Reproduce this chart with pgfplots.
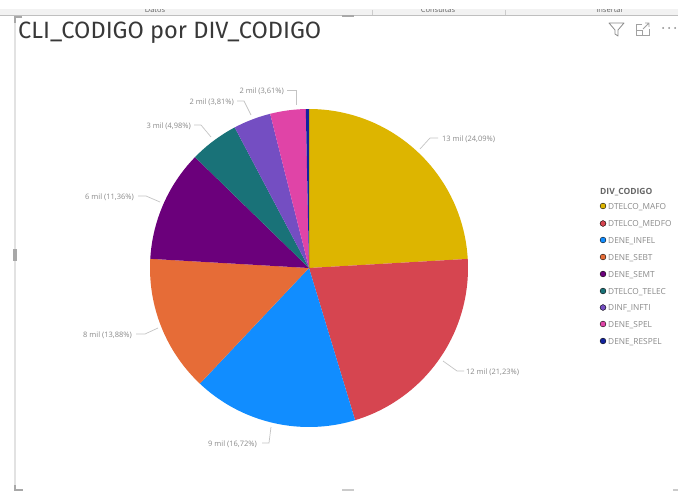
\documentclass[border=0pt]{standalone}
\usepackage{pgfplots}
\usepackage{fontspec}
\pgfplotsset{compat=1.18}
\setmainfont{Open Sans}
\newfontfamily\titlefont{Fira Sans}
\definecolor{cA}{HTML}{DDB500}
\definecolor{cB}{HTML}{D64550}
\definecolor{cC}{HTML}{118DFF}
\definecolor{cD}{HTML}{E66C37}
\definecolor{cE}{HTML}{6B007B}
\definecolor{cF}{HTML}{197278}
\definecolor{cG}{HTML}{744EC2}
\definecolor{cH}{HTML}{E044A7}
\definecolor{cI}{HTML}{12239E}
\definecolor{lbl}{HTML}{8A8A8A}
\definecolor{leader}{HTML}{C4C4C4}
\definecolor{frame}{HTML}{E2E2E2}
\definecolor{handle}{HTML}{A8A8A8}
% One sector: start and end as cumulative percentages, clockwise from the top
\newcommand{\slice}[3]{%
  \addplot[fill=#3, draw=none, domain=0:1, samples=60, samples y=0]
    ({309+159*sin(3.6*(#1+(#2-#1)*x))}, {223+159*cos(3.6*(#1+(#2-#1)*x))})
    -- (axis cs:309,223) -- cycle;
}
% Data label with its two-segment leader, in pixel coordinates from the top
\newcommand{\lab}[8]{%
  \draw[leader, line width=0.7pt] (axis cs:#1,491-#2) -- (axis cs:#3,491-#4) -- (axis cs:#5,491-#4);
  \node[anchor=#8, text=lbl, font=\fontsize{7.5}{9}\selectfont, inner sep=0pt] at (axis cs:#6,491-#4-1) {#7};
}
\newcommand{\leg}[3]{%
  \addplot[only marks, mark=*, mark size=2.9pt, mark options={draw=none, fill=#3}] coordinates {(603,#1)};
  \node[anchor=west, text=lbl, font=\fontsize{8.3}{10}\selectfont, inner sep=0pt] at (axis cs:608,#1-1) {#2};
}
\begin{document}
\begin{tikzpicture}[x=1pt,y=1pt]
\begin{axis}[
  scale only axis, width=678pt, height=491pt,
  xmin=0, xmax=678, ymin=0, ymax=491,
  hide axis, clip=true,
]
% Canvas
\fill[white] (axis cs:0,0) rectangle (axis cs:678,491);
% Report chrome: tab strip and visual frame
\fill[fill=black!5] (axis cs:0,491-15) rectangle (axis cs:678,491-9.5);
\begin{scope}
\clip (axis cs:0,491-14.5) rectangle (axis cs:678,491-9.5);
\node[text=lbl!70!black, font=\fontsize{7.5}{9}\selectfont, inner sep=0pt] at (axis cs:155,491-9.5) {Datos};
\node[text=lbl!70!black, font=\fontsize{7.5}{9}\selectfont, inner sep=0pt] at (axis cs:438,491-9.5) {Consultas};
\node[text=lbl!70!black, font=\fontsize{7.5}{9}\selectfont, inner sep=0pt] at (axis cs:610,491-9.5) {Insertar};
\end{scope}
\draw[black!25, line width=1pt] (axis cs:0,491-15.5) -- (axis cs:678,491-15.5);
\draw[frame, line width=2pt] (axis cs:15,491-16) -- (axis cs:15,491-486);
\draw[handle, line width=4pt] (axis cs:15,491-249) -- (axis cs:15,491-261);
\draw[handle, line width=2pt] (axis cs:342,491-16.5) -- (axis cs:354,491-16.5);
\draw[handle!60, line width=2pt] (axis cs:342,491-490) -- (axis cs:354,491-490);
\draw[handle, line width=2pt] (axis cs:22,491-17) -- (axis cs:15,491-17) -- (axis cs:15,491-23);
\draw[handle, line width=2pt] (axis cs:15,491-485) -- (axis cs:15,491-490) -- (axis cs:23,491-490);
\draw[handle!60, line width=2pt] (axis cs:673,491-490) -- (axis cs:678,491-490);
\draw[black!20, line width=0.5pt] (axis cs:372,491-10) -- (axis cs:372,491-15);
\draw[black!20, line width=0.5pt] (axis cs:505,491-10) -- (axis cs:505,491-15);
% Title
\node[anchor=west, text=black!78, font=\titlefont\fontsize{23.6}{26}\selectfont, inner sep=0pt] at (axis cs:18,491-32.5) {CLI\_CODIGO por DIV\_CODIGO};
% Header icons
\draw[lbl, line width=0.8pt, line join=round] (axis cs:609,491-23) -- (axis cs:624,491-23) -- (axis cs:618,491-30) -- (axis cs:618,491-36) -- (axis cs:615,491-34) -- (axis cs:615,491-30) -- cycle;
\draw[lbl!80, line width=0.8pt] (axis cs:642,491-24) -- (axis cs:636,491-24) -- (axis cs:636,491-35) -- (axis cs:649,491-35) -- (axis cs:649,491-29);
\draw[lbl!80, line width=0.8pt] (axis cs:636,491-30) -- (axis cs:642,491-30) -- (axis cs:642,491-35);
\draw[lbl!80, line width=0.8pt] (axis cs:643,491-29) -- (axis cs:649,491-23) (axis cs:645,491-23) -- (axis cs:649,491-23) -- (axis cs:649,491-27);
\fill[lbl] (axis cs:663,491-28) circle[radius=1pt] (axis cs:669,491-28) circle[radius=1pt] (axis cs:675,491-28) circle[radius=1pt];
% Pie sectors, cumulative shares in percent
\slice{0}{24.09}{cA}
\slice{24.09}{45.32}{cB}
\slice{45.32}{62.04}{cC}
\slice{62.04}{75.92}{cD}
\slice{75.92}{87.28}{cE}
\slice{87.28}{92.26}{cF}
\slice{92.26}{96.07}{cG}
\slice{96.07}{99.68}{cH}
\slice{99.68}{100}{cI}
% Data labels
\lab{420}{149}{430}{138}{438}{442}{13 mil (24,09\%)}{west}
\lab{443}{361}{457}{371}{464}{466}{12 mil (21,23\%)}{west}
\lab{271}{427}{269}{443}{262}{257}{9 mil (16,72\%)}{east}
\lab{158}{328}{145}{334}{136}{132}{8 mil (13,88\%)}{east}
\lab{160}{202}{146}{196}{138}{134}{6 mil (11,36\%)}{east}
\lab{211}{137}{201}{125}{194}{191}{3 mil (4,98\%)}{east}
\lab{251}{115}{244}{101}{237}{234}{2 mil (3,81\%)}{east}
\lab{296}{105}{296}{90}{287}{284}{2 mil (3,61\%)}{east}
% Legend
\node[anchor=west, text=black!60, font=\bfseries\fontsize{8.5}{10}\selectfont, inner sep=0pt] at (axis cs:600,491-192.5) {DIV\_CODIGO};
\leg{285}{DTELCO\_MAFO}{cA}
\leg{267.5}{DTELCO\_MEDFO}{cB}
\leg{251}{DENE\_INFEL}{cC}
\leg{234}{DENE\_SEBT}{cD}
\leg{217}{DENE\_SEMT}{cE}
\leg{200}{DTELCO\_TELEC}{cF}
\leg{183.5}{DINF\_INFTI}{cG}
\leg{167}{DENE\_SPEL}{cH}
\leg{150}{DENE\_RESPEL}{cI}
\end{axis}
\end{tikzpicture}
\end{document}
